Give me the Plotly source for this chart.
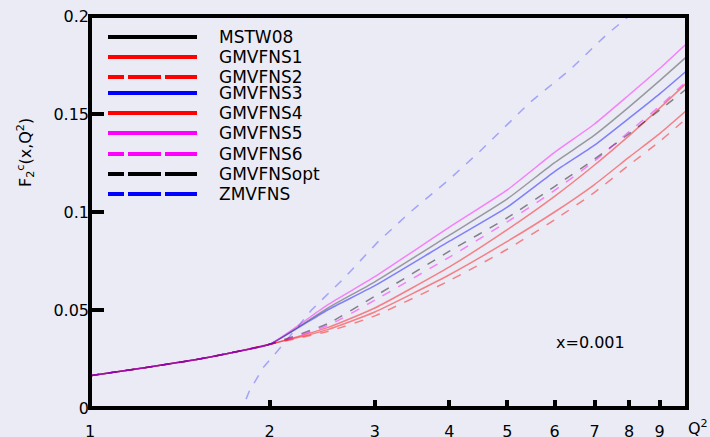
import plotly.graph_objects as go

# ---- data ----
q2 = [1.0, 1.25, 1.5, 1.75, 2.0, 2.5, 3.0, 4.0, 5.0, 6.0, 7.0, 8.0, 9.0, 10.0]
mstw08   = [0.0165, 0.0208, 0.0246, 0.0286, 0.0325, 0.0510, 0.0644, 0.0882, 0.1067, 0.1252, 0.1392, 0.1536, 0.1670, 0.1794]
gmvfns1  = [0.0165, 0.0208, 0.0246, 0.0286, 0.0325, 0.0410, 0.0510, 0.0720, 0.0910, 0.1080, 0.1240, 0.1390, 0.1530, 0.1660]
gmvfns2  = [0.0165, 0.0208, 0.0246, 0.0286, 0.0325, 0.0390, 0.0470, 0.0650, 0.0810, 0.0960, 0.1100, 0.1240, 0.1360, 0.1480]
gmvfns3  = [0.0165, 0.0208, 0.0246, 0.0286, 0.0325, 0.0500, 0.0624, 0.0851, 0.1025, 0.1206, 0.1341, 0.1479, 0.1603, 0.1722]
gmvfns4  = [0.0165, 0.0208, 0.0246, 0.0286, 0.0325, 0.0400, 0.0490, 0.0680, 0.0850, 0.1000, 0.1140, 0.1280, 0.1400, 0.1520]
gmvfns5  = [0.0165, 0.0208, 0.0246, 0.0286, 0.0325, 0.0526, 0.0670, 0.0923, 0.1113, 0.1304, 0.1449, 0.1598, 0.1732, 0.1861]
gmvfns6  = [0.0165, 0.0208, 0.0246, 0.0286, 0.0325, 0.0420, 0.0550, 0.0770, 0.0950, 0.1110, 0.1260, 0.1410, 0.1540, 0.1670]
gmvfnsopt= [0.0165, 0.0208, 0.0246, 0.0286, 0.0325, 0.0430, 0.0570, 0.0800, 0.0970, 0.1130, 0.1270, 0.1400, 0.1520, 0.1630]
q2_zm = [1.0, 1.5, 1.8, 1.85, 1.95, 2.1, 2.35, 2.67, 3.03, 3.44, 4.01, 4.5, 5.46, 6.37, 7.34, 8.0, 8.5]
zmvfns = [0.0, 0.0, 0.0, 0.0088, 0.0206, 0.032, 0.050, 0.0665, 0.0845, 0.100, 0.117, 0.131, 0.156, 0.1726, 0.1906, 0.200, 0.207]

series_names = ["MSTW08", "GMVFNS1", "GMVFNS2", "GMVFNS3", "GMVFNS4",
                "GMVFNS5", "GMVFNS6", "GMVFNSopt", "ZMVFNS"]
x_ticks = [1, 2, 3, 4, 5, 6, 7, 8, 9, 10]
x_ticktext = ["1", "2", "3", "4", "5", "6", "7", "8", "9", ""]
y_ticks = [0, 0.05, 0.1, 0.15, 0.2]
y_ticktext = ["0", "0.05", "0.1", "0.15", "0.2"]

# ---- styles ----
styles = {
    "MSTW08":    ("#000000", "solid"),
    "GMVFNS1":   ("#ff0000", "solid"),
    "GMVFNS2":   ("#ff0000", "dash"),
    "GMVFNS3":   ("#0000ff", "solid"),
    "GMVFNS4":   ("#ff0000", "solid"),
    "GMVFNS5":   ("#ff00ff", "solid"),
    "GMVFNS6":   ("#ff00ff", "dash"),
    "GMVFNSopt": ("#000000", "dash"),
    "ZMVFNS":    ("#0000ff", "dash"),
}
data = {
    "MSTW08": (q2, mstw08), "GMVFNS1": (q2, gmvfns1), "GMVFNS2": (q2, gmvfns2),
    "GMVFNS3": (q2, gmvfns3), "GMVFNS4": (q2, gmvfns4), "GMVFNS5": (q2, gmvfns5),
    "GMVFNS6": (q2, gmvfns6), "GMVFNSopt": (q2, gmvfnsopt), "ZMVFNS": (q2_zm, zmvfns),
}
draw_order = ["ZMVFNS", "GMVFNS2", "GMVFNS4", "GMVFNS1", "GMVFNSopt",
              "GMVFNS6", "GMVFNS3", "MSTW08", "GMVFNS5"]
opac = {"ZMVFNS": 0.3, "MSTW08": 0.35}

BG = "rgb(235,235,246)"
FONT = "DejaVu Sans"

fig = go.Figure()
for name in draw_order:
    xs, ys = data[name]
    col, dash = styles[name]
    shape = "linear" if name == "ZMVFNS" else "spline"
    fig.add_trace(go.Scatter(x=xs, y=ys, mode="lines", name=name,
                             line=dict(color=col, width=1.5, dash=dash, shape=shape, smoothing=0.5),
                             opacity=opac.get(name, 0.45), showlegend=False))

# plot-area geometry (pixels)
W, H = 710, 437
L, R, T, B = 90, 23, 16, 29
pw, ph = W - L - R, H - T - B
def px(x): return (x - L) / pw
def py(y): return (H - B - y) / ph

# frame around the plot area
shapes = [dict(type="rect", xref="paper", yref="paper", x0=0, x1=1, y0=0, y1=1,
               line=dict(color="black", width=4), fillcolor="rgba(0,0,0,0)", layer="above")]
annotations = []

# key (drawn by hand: thick sample lines, as in the reference)
row_y = [37, 57, 77, 93, 113, 133, 154, 174, 194]
for name, yy in zip(series_names, row_y):
    col, dash = styles[name]
    segs = [(108, 197)] if dash == "solid" else [(108, 124), (128, 161), (165, 197)]
    for a, b in segs:
        shapes.append(dict(type="line", xref="paper", yref="paper",
                           x0=px(a), x1=px(b), y0=py(yy), y1=py(yy),
                           line=dict(color=col, width=4)))
    annotations.append(dict(text=name, xref="paper", yref="paper",
                            x=px(217), y=py(yy), xanchor="left", yanchor="middle",
                            showarrow=False, font=dict(size=17, color="black", family=FONT)))

annotations.append(dict(text="x=0.001", xref="paper", yref="paper",
                        x=px(590), y=py(342), xanchor="center", yanchor="middle",
                        showarrow=False, font=dict(size=16, color="black", family=FONT)))
annotations.append(dict(text="Q<sup>2</sup>", xref="paper", yref="paper",
                        x=px(686), y=py(427), xanchor="left", yanchor="middle",
                        showarrow=False, font=dict(size=16, color="black", family=FONT)))
annotations.append(dict(text="F<sub>2</sub><sup>c</sup>(x,Q<sup>2</sup>)", xref="paper", yref="paper",
                        x=px(25), y=py(153), xanchor="center", yanchor="middle",
                        textangle=-90, showarrow=False,
                        font=dict(size=16, color="black", family=FONT)))

tickstyle = dict(showgrid=False, zeroline=False, showline=False, ticks="inside",
                 tickwidth=4, tickcolor="#000000", automargin=False, tickmode="array")

fig.update_layout(
    width=W, height=H,
    margin=dict(l=L, r=R, t=T, b=B, pad=0, autoexpand=False),
    paper_bgcolor=BG, plot_bgcolor=BG,
    font=dict(family=FONT, size=16, color="black"),
    shapes=shapes, annotations=annotations, showlegend=False,
    xaxis=dict(type="log", range=[0, 1], tickvals=x_ticks, ticktext=x_ticktext,
               ticklen=8, ticklabelstandoff=12, **tickstyle),
    xaxis2=dict(type="log", range=[0, 1], tickvals=x_ticks, showticklabels=False,
                overlaying="x", side="top", anchor="y", ticklen=6, **tickstyle),
    yaxis=dict(range=[0, 0.2], tickvals=y_ticks, ticktext=y_ticktext,
               ticklen=14, **tickstyle),
    yaxis2=dict(range=[0, 0.2], tickvals=y_ticks, showticklabels=False,
                overlaying="y", side="right", anchor="x", ticklen=14, **tickstyle),
)

fig.write_html("out.html")
